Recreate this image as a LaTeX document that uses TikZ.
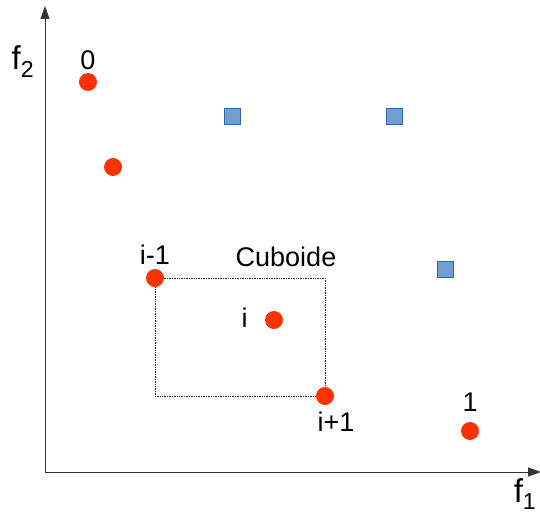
\documentclass[tikz,border=0pt]{standalone}
\usepackage{fontspec}
\setmainfont{Liberation Sans}
\usetikzlibrary{arrows.meta,positioning}
\definecolor{ptred}{HTML}{FF3300}
\definecolor{boxfill}{HTML}{729FCF}
\definecolor{boxline}{HTML}{3465A4}
\tikzset{
  axis/.style={draw=black!80, line width=1pt, -{Triangle[length=13pt,width=9pt]}},
  sol/.style={circle, fill=ptred, minimum size=18pt, inner sep=0pt},
  dom/.style={rectangle, fill=boxfill, draw=boxline, line width=0.8pt, minimum size=16pt, inner sep=0pt},
  cuboid/.style={draw=black!85, densely dotted, line width=0.7pt},
  lbl/.style={font=\fontsize{27}{27}\selectfont, inner sep=1pt},
  axlbl/.style={font=\fontsize{33}{33}\selectfont, inner sep=0pt}
}
\begin{document}
\begin{tikzpicture}[x=1pt, y=-1pt]
    \useasboundingbox (0,0) rectangle (540,516);
    \coordinate (origin) at (45,472);
    \coordinate (ytip) at (45,6);
    \coordinate (xtip) at (541,472);

    % cuboid between neighbours
    \coordinate (c1) at (155,278);
    \coordinate (c2) at (325,396);
    \draw[cuboid] (c1) -| (c2) -| (c1);

    % points of the front
    \node[sol] (p0) at (88,82) {};
    \node[sol] (p2) at (113,167) {};
    \node[sol] (pim1) at (c1) {};
    \node[sol] (pi) at (274,320) {};
    \node[sol] (pip1) at (c2) {};
    \node[sol] (p1) at (470,431) {};

    % dominated points
    \node[dom] (d1) at (232,116) {};
    \node[dom] (d2) at (394,116) {};
    \node[dom] (d3) at (445,269) {};

    \draw[axis] (origin) -- (ytip);
    \draw[axis] (origin) -- (xtip);

    \node[lbl, above=2pt of p0] (l0) {0};
    \node[lbl, above=3pt of pim1] (lim1) {i-1};
    \node[lbl, anchor=base] (lcub) at (286,266) {Cuboide};
    \node[lbl, left=16pt of pi, yshift=2pt] (li) {i};
    \node[lbl, below=6pt of pip1, xshift=11pt] (lip1) {i+1};
    \node[lbl, above=9pt of p1] (l1) {1};
    \node[axlbl, anchor=base] (lf2) at (23,70) {f\textsubscript{2}};
    \node[axlbl, anchor=base] (lf1) at (525,502) {f\textsubscript{1}};
\end{tikzpicture}
\end{document}
